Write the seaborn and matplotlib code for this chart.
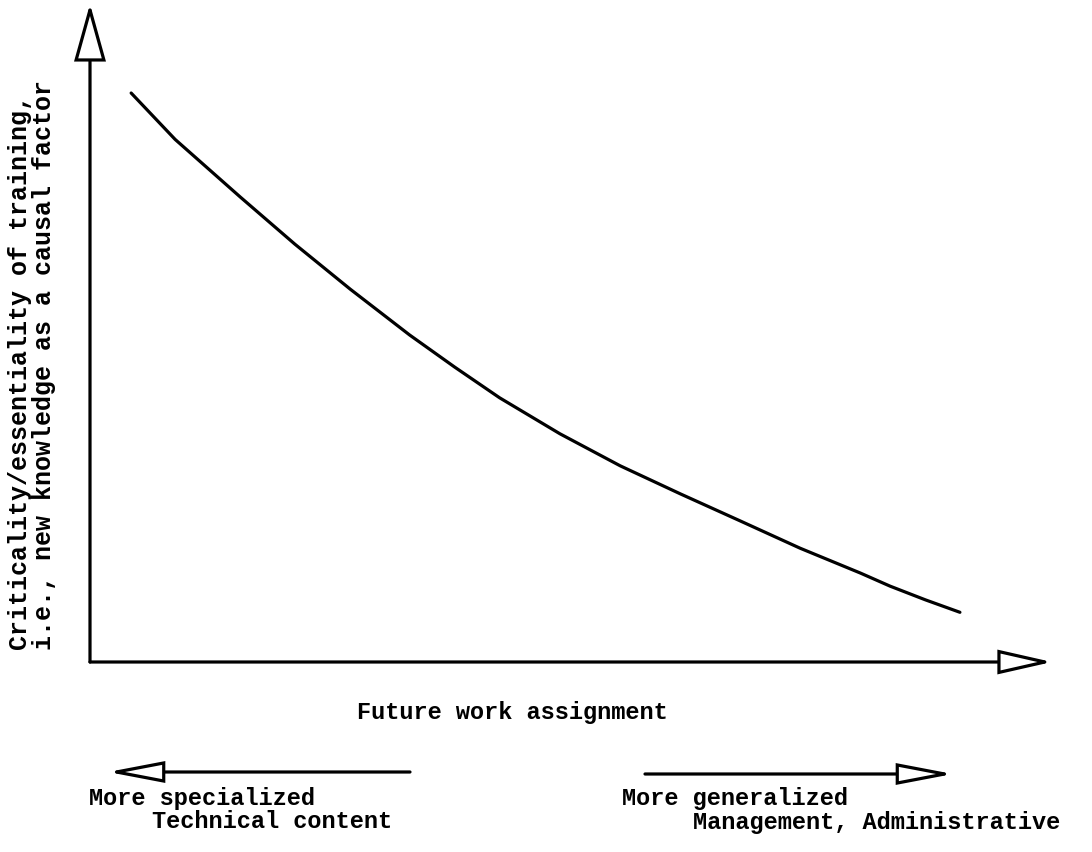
import numpy as np
import pandas as pd
import seaborn as sns
import matplotlib.pyplot as plt
from matplotlib.patches import FancyArrowPatch

# curve (x: work assignment, y: criticality), 0-100 scales
work = [4.3, 8.9, 15.7, 21.4, 27.2, 33.4, 38.1, 42.8, 49.1, 55.4, 61.7, 67.9, 74.2, 80.5, 83.6, 87.3, 90.9]
criticality = [87.0, 79.9, 71.1, 63.9, 57.0, 50.0, 45.1, 40.4, 34.9, 30.0, 25.7, 21.6, 17.4, 13.6, 11.6, 9.5, 7.6]

ylabel = "Criticality/essentiality of training,\ni.e., new knowledge as a causal factor"
xlabel = "Future work assignment"
left_labels = ["More specialized", "Technical content"]
right_labels = ["More generalized", "Management, Administrative"]

df = pd.DataFrame({"work": work, "criticality": criticality})

sns.set_style("white")
plt.rcParams["font.family"] = ["Liberation Mono", "DejaVu Sans Mono"]
plt.rcParams["text.color"] = "black"

W, H = 1092, 852
fig = plt.figure(figsize=(W / 100, H / 100), dpi=100)
ax = fig.add_axes([90 / W, 190 / H, 957 / W, 654 / H])
sns.lineplot(data=df, x="work", y="criticality", ax=ax, color="black", linewidth=2.3)
ax.set_xlim(0, 100)
ax.set_ylim(0, 100)
ax.set_xticks([])
ax.set_yticks([])
ax.set_xlabel("")
ax.set_ylabel("")
for s in ax.spines.values():
    s.set_visible(False)


def open_arrow(p0, p1, hl, hw):
    a = FancyArrowPatch(p0, p1, transform=fig.transFigure,
                        arrowstyle=f"-|>,head_length={hl},head_width={hw}",
                        mutation_scale=1, shrinkA=0, shrinkB=0,
                        lw=2.3, ec="black", fc="white", clip_on=False,
                        joinstyle="miter")
    fig.add_artist(a)


def px(x, y):
    return (x / W, 1 - y / H)


# axes arrows
open_arrow(px(90, 662), px(90, 4), 36, 10)
open_arrow(px(90, 662), px(1052, 662), 33, 7.5)
# direction arrows below the axis
open_arrow(px(410, 772), px(108, 772), 34, 6.5)
open_arrow(px(645, 774), px(953, 774), 34, 6.5)

fs = 17
fw = "bold"
fig.text(*px(512, 713), xlabel, ha="center", va="center", fontsize=fs, fontweight=fw)
fig.text(*px(32, 650), ylabel, rotation=90, ha="center", va="bottom",
         multialignment="left", fontsize=fs + 1, linespacing=1.0, fontweight=fw)
fig.text(*px(89, 798), left_labels[0], ha="left", va="center", fontsize=fs, fontweight=fw)
fig.text(*px(152, 822), left_labels[1], ha="left", va="center", fontsize=fs, fontweight=fw)
fig.text(*px(622, 798), right_labels[0], ha="left", va="center", fontsize=fs, fontweight=fw)
fig.text(*px(693, 822), right_labels[1], ha="left", va="center", fontsize=fs, fontweight=fw)

fig.savefig("out.png", dpi=100, facecolor="white")
